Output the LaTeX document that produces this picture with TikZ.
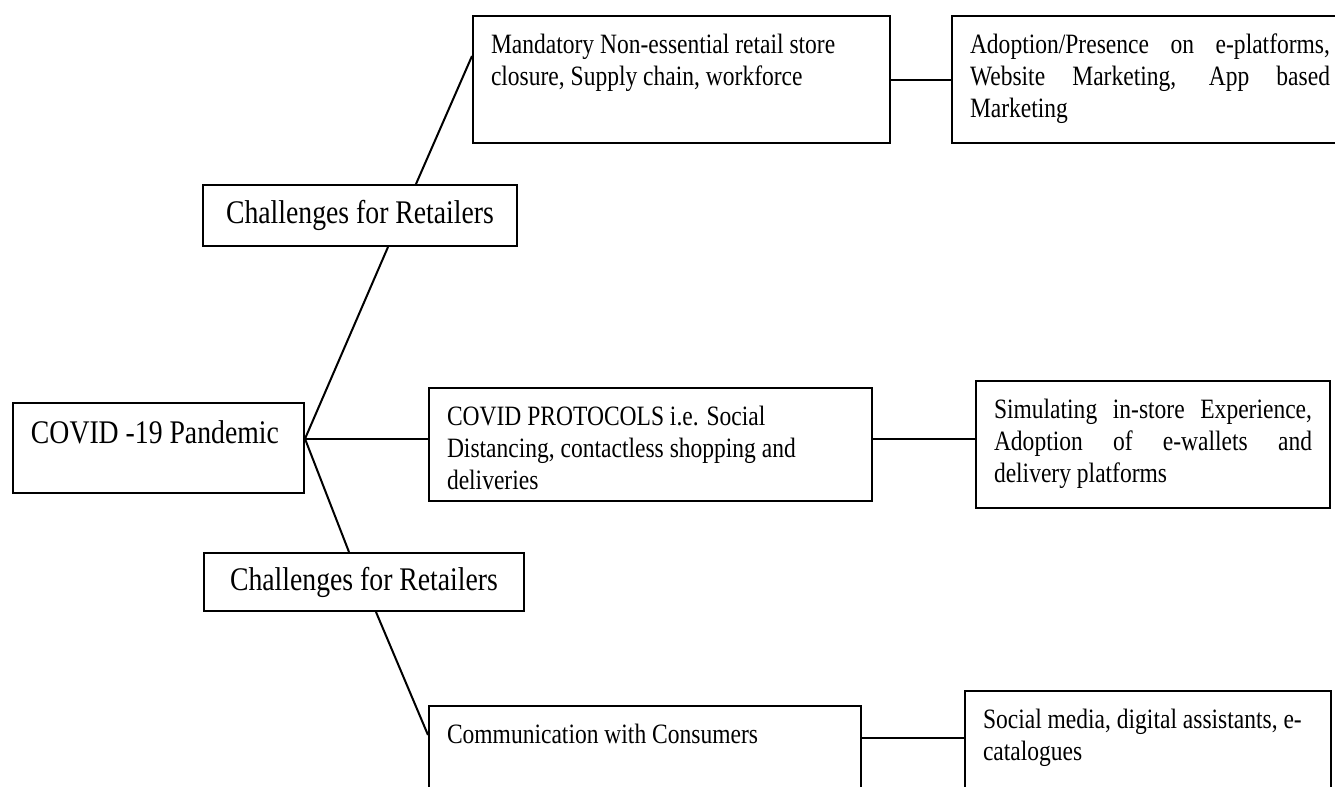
\documentclass[tikz,border=0pt]{standalone}
\usepackage{fontspec}
\setmainfont{Liberation Serif}[FakeStretch=0.84]
\usetikzlibrary{positioning,calc}
\newcommand{\boxtext}[3]{\parbox[t][#2][t]{#1}{#3}}

\begin{document}
\begin{tikzpicture}[
  x=0.5pt,y=-0.5pt,
  font=\fontsize{14}{16}\selectfont,
  box/.style={draw,line width=1pt,inner sep=9pt,anchor=north west},
  big/.style={box,font=\fontsize{16.5}{19}\selectfont},
  tag/.style={draw,line width=1pt,inner sep=0pt,anchor=north west,font=\fontsize{16.5}{19}\selectfont},
  link/.style={line width=1pt}
]
\useasboundingbox (0,0) rectangle (1335,787);
\node[big] (covid) at (12,402) {\boxtext{127.5pt}{27pt}{\raggedright COVID~-19~Pandemic}};
\node[tag,minimum width=157pt,minimum height=30.5pt] (chal1) at (202,184) {Challenges for Retailers};
\node[tag,minimum width=160pt,minimum height=29pt] (chal2) at (203,552) {Challenges for Retailers};
\node[box] (mand) at (472,15) {\boxtext{190.5pt}{45.5pt}{\raggedright Mandatory Non-essential retail store\\closure, Supply chain, workforce}};
\node[box,right=30pt of mand] (adopt) {\boxtext{180pt}{45.5pt}{Adoption/Presence on e-platforms,\linebreak Website Marketing, App based\linebreak Marketing}};
\node[box] (prot) at (428,387) {\boxtext{203.5pt}{38.5pt}{\raggedright COVID PROTOCOLS i.e. Social\\Distancing, contactless shopping and\\deliveries}};
\node[box,right=51pt of prot] (sim) {\boxtext{159pt}{45.5pt}{Simulating in-store Experience,\linebreak Adoption of e-wallets and\linebreak delivery platforms}};
\node[box] (comm) at (428,705) {\boxtext{198pt}{34.5pt}{\raggedright Communication with Consumers}};
\node[box,right=51pt of comm] (soc) {\boxtext{165pt}{49.5pt}{\raggedright Social media, digital assistants, e-\\catalogues}};
\coordinate (hub) at ($(covid.north east)!0.4!(covid.south east)$);
\coordinate (p1) at ([yshift=2.75pt]prot.east);
\coordinate (c1) at ([yshift=-16.5pt]comm.north east);
\draw[link] (hub) -- ([xshift=14pt]chal1.south);
\draw[link] ([xshift=28pt]chal1.north) -- ([yshift=11.75pt]mand.west);
\draw[link] (hub) -- (hub -| prot.west);
\draw[link] (hub) -- ([xshift=-7.5pt]chal2.north);
\draw[link] ([xshift=6pt]chal2.south) -- ([yshift=-15pt]comm.north west);
\draw[link] (mand) -- (adopt);
\draw[link] (p1) -- (p1 -| sim.west);
\draw[link] (c1) -- (c1 -| soc.west);
\end{tikzpicture}
\end{document}
